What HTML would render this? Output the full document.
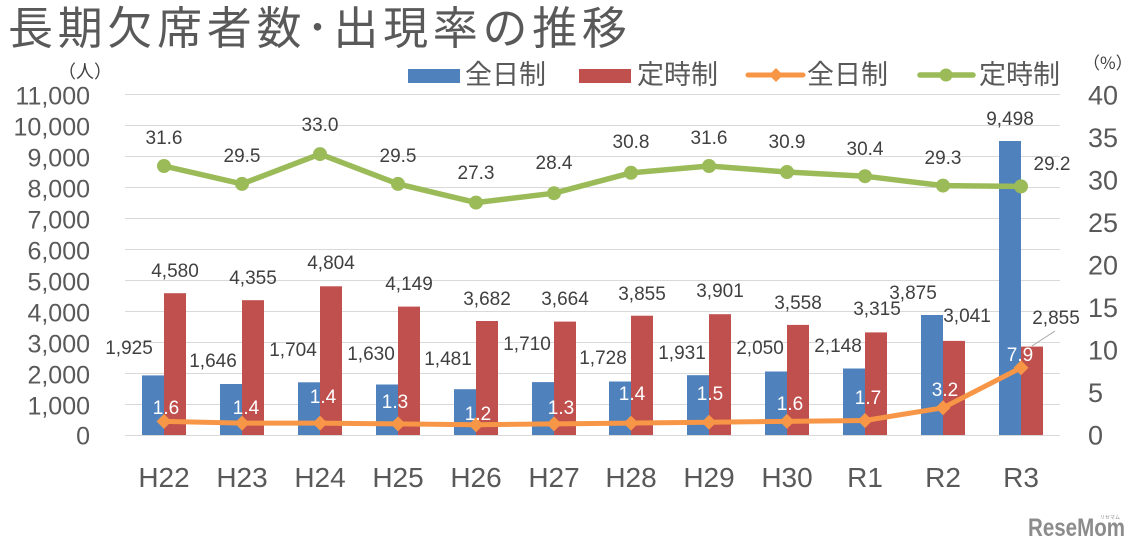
<!DOCTYPE html>
<html><head><meta charset="utf-8"><style>
html,body{margin:0;padding:0;background:#fff;}
svg{display:block;}
text{font-family:"Liberation Sans","Noto Sans CJK JP",sans-serif;}
.cj{font-family:"Noto Sans CJK JP","Liberation Sans",sans-serif;}
.ax{fill:#595959;font-size:25px;}
.axr{fill:#595959;font-size:27px;}
.xl{fill:#595959;font-size:28px;text-anchor:middle;}
.dl{fill:#404040;font-size:19px;text-anchor:middle;}
.wl{fill:#ffffff;font-size:19px;text-anchor:middle;}
</style></head><body>
<svg width="1138" height="550" viewBox="0 0 1138 550" xmlns="http://www.w3.org/2000/svg">
<rect width="1138" height="550" fill="#fff"/>
<!-- title -->
<text class="cj" x="8" y="44" font-size="45" letter-spacing="4.7" fill="#595959">長期欠席者数･出現率の推移</text>
<!-- units -->
<text class="cj" x="58" y="78" font-size="18" fill="#404040">（人）</text>
<text class="cj" x="1083" y="69" font-size="17" fill="#404040">（%）</text>
<!-- gridlines -->
<g stroke="#d9d9d9" stroke-width="1">
<line x1="125" x2="1060" y1="94.5" y2="94.5"/>
<line x1="125" x2="1060" y1="125.5" y2="125.5"/>
<line x1="125" x2="1060" y1="156.5" y2="156.5"/>
<line x1="125" x2="1060" y1="187.5" y2="187.5"/>
<line x1="125" x2="1060" y1="218.5" y2="218.5"/>
<line x1="125" x2="1060" y1="249.5" y2="249.5"/>
<line x1="125" x2="1060" y1="280.5" y2="280.5"/>
<line x1="125" x2="1060" y1="311.5" y2="311.5"/>
<line x1="125" x2="1060" y1="342.5" y2="342.5"/>
<line x1="125" x2="1060" y1="373.5" y2="373.5"/>
<line x1="125" x2="1060" y1="404.5" y2="404.5"/>
<line x1="125" x2="1060" y1="435.5" y2="435.5"/>
</g>
<!-- left axis labels -->
<g class="ax" text-anchor="end">
<text x="90" y="104.5">11,000</text>
<text x="90" y="135.5">10,000</text>
<text x="90" y="166.5">9,000</text>
<text x="90" y="197.5">8,000</text>
<text x="90" y="228.5">7,000</text>
<text x="90" y="259.5">6,000</text>
<text x="90" y="290.5">5,000</text>
<text x="90" y="321.5">4,000</text>
<text x="90" y="352.5">3,000</text>
<text x="90" y="383.5">2,000</text>
<text x="90" y="414.5">1,000</text>
<text x="90" y="444.5">0</text>
</g>
<!-- right axis labels -->
<g class="axr">
<text x="1088" y="104.5">40</text>
<text x="1088" y="147">35</text>
<text x="1088" y="189.5">30</text>
<text x="1088" y="232">25</text>
<text x="1088" y="274.5">20</text>
<text x="1088" y="317">15</text>
<text x="1088" y="359.5">10</text>
<text x="1088" y="402">5</text>
<text x="1088" y="444.5">0</text>
</g>
<!-- blue bars -->
<g fill="#4f81bd">
<rect x="142" y="375.4" width="22" height="59.6"/>
<rect x="220" y="384.0" width="22" height="51.0"/>
<rect x="298" y="382.3" width="22" height="52.7"/>
<rect x="376" y="384.5" width="22" height="50.5"/>
<rect x="454" y="389.2" width="22" height="45.8"/>
<rect x="532" y="382.1" width="22" height="52.9"/>
<rect x="609" y="381.5" width="22" height="53.5"/>
<rect x="687" y="375.2" width="22" height="59.8"/>
<rect x="765" y="371.5" width="22" height="63.5"/>
<rect x="843" y="368.5" width="22" height="66.5"/>
<rect x="921" y="315.0" width="22" height="120.0"/>
<rect x="999" y="141.0" width="22" height="294.0"/>
</g>
<!-- red bars -->
<g fill="#c0504d">
<rect x="164" y="293.2" width="22" height="141.8"/>
<rect x="242" y="300.2" width="22" height="134.8"/>
<rect x="320" y="286.3" width="22" height="148.7"/>
<rect x="398" y="306.6" width="22" height="128.4"/>
<rect x="476" y="321.0" width="22" height="114.0"/>
<rect x="554" y="321.6" width="22" height="113.4"/>
<rect x="631" y="315.7" width="22" height="119.3"/>
<rect x="709" y="314.2" width="22" height="120.8"/>
<rect x="787" y="324.9" width="22" height="110.1"/>
<rect x="865" y="332.4" width="22" height="102.6"/>
<rect x="943" y="340.9" width="22" height="94.1"/>
<rect x="1021" y="346.6" width="22" height="88.4"/>
</g>
<!-- green line -->
<polyline fill="none" stroke="#9bbb59" stroke-width="5.5" stroke-linejoin="round"
 points="164,166.0 242,183.9 320,154.1 398,183.9 476,202.6 554,193.2 631,172.8 709,166.0 787,172.0 865,176.2 943,185.6 1021,186.4"/>
<g fill="#9bbb59">
<circle cx="164" cy="166.0" r="7"/><circle cx="242" cy="183.9" r="7"/><circle cx="320" cy="154.1" r="7"/>
<circle cx="398" cy="183.9" r="7"/><circle cx="476" cy="202.6" r="7"/><circle cx="554" cy="193.2" r="7"/>
<circle cx="631" cy="172.8" r="7"/><circle cx="709" cy="166.0" r="7"/><circle cx="787" cy="172.0" r="7"/>
<circle cx="865" cy="176.2" r="7"/><circle cx="943" cy="185.6" r="7"/><circle cx="1021" cy="186.4" r="7"/>
</g>
<!-- orange line -->
<polyline fill="none" stroke="#f79646" stroke-width="5" stroke-linejoin="round"
 points="164,421.4 242,423.1 320,423.1 398,423.9 476,424.8 554,423.9 631,423.1 709,422.2 787,421.4 865,420.5 943,407.8 1021,367.8"/>
<g fill="#f79646">
<polygon points="164,413.9 171.5,421.4 164,428.9 156.5,421.4"/>
<polygon points="242,415.6 249.5,423.1 242,430.6 234.5,423.1"/>
<polygon points="320,415.6 327.5,423.1 320,430.6 312.5,423.1"/>
<polygon points="398,416.4 405.5,423.9 398,431.4 390.5,423.9"/>
<polygon points="476,417.3 483.5,424.8 476,432.3 468.5,424.8"/>
<polygon points="554,416.4 561.5,423.9 554,431.4 546.5,423.9"/>
<polygon points="631,415.6 638.5,423.1 631,430.6 623.5,423.1"/>
<polygon points="709,414.7 716.5,422.2 709,429.7 701.5,422.2"/>
<polygon points="787,413.9 794.5,421.4 787,428.9 779.5,421.4"/>
<polygon points="865,413.0 872.5,420.5 865,428.0 857.5,420.5"/>
<polygon points="943,400.3 950.5,407.8 943,415.3 935.5,407.8"/>
<polygon points="1021,360.3 1028.5,367.8 1021,375.3 1013.5,367.8"/>
</g>
<!-- leader line -->
<line x1="1032" y1="346" x2="1055" y2="331" stroke="#a6a6a6" stroke-width="1"/>
<!-- red labels -->
<g class="dl">
<text x="175" y="277">4,580</text>
<text x="253" y="284">4,355</text>
<text x="331" y="269">4,804</text>
<text x="409" y="290">4,149</text>
<text x="487" y="305">3,682</text>
<text x="565" y="305">3,664</text>
<text x="642" y="300">3,855</text>
<text x="720" y="297">3,901</text>
<text x="798" y="309">3,558</text>
<text x="877" y="315">3,315</text>
<text x="967" y="322">3,041</text>
<text x="1056" y="324">2,855</text>
</g>
<!-- blue labels -->
<g class="dl">
<text x="129" y="354">1,925</text>
<text x="213" y="367">1,646</text>
<text x="293" y="356">1,704</text>
<text x="371" y="360">1,630</text>
<text x="448" y="365">1,481</text>
<text x="527" y="350">1,710</text>
<text x="603" y="364">1,728</text>
<text x="682" y="359">1,931</text>
<text x="760" y="354">2,050</text>
<text x="838" y="352">2,148</text>
<text x="913" y="299">3,875</text>
<text x="1010" y="125">9,498</text>
</g>
<!-- orange labels (white) -->
<g class="wl">
<text x="166" y="414">1.6</text>
<text x="246" y="414">1.4</text>
<text x="323" y="403">1.4</text>
<text x="395" y="408">1.3</text>
<text x="478" y="420">1.2</text>
<text x="561" y="414">1.3</text>
<text x="632" y="400">1.4</text>
<text x="710" y="400">1.5</text>
<text x="790" y="410">1.6</text>
<text x="868" y="404">1.7</text>
<text x="945" y="396">3.2</text>
<text x="1020" y="361">7.9</text>
</g>
<!-- green labels -->
<g class="dl">
<text x="164" y="144">31.6</text>
<text x="242" y="162">29.5</text>
<text x="320" y="131">33.0</text>
<text x="398" y="162">29.5</text>
<text x="476" y="179">27.3</text>
<text x="554" y="169">28.4</text>
<text x="631" y="148">30.8</text>
<text x="709" y="144">31.6</text>
<text x="787" y="148">30.9</text>
<text x="865" y="155">30.4</text>
<text x="943" y="164">29.3</text>
<text x="1052" y="170">29.2</text>
</g>
<!-- x labels -->
<g class="xl">
<text x="164" y="487">H22</text>
<text x="242" y="487">H23</text>
<text x="320" y="487">H24</text>
<text x="398" y="487">H25</text>
<text x="476" y="487">H26</text>
<text x="554" y="487">H27</text>
<text x="631" y="487">H28</text>
<text x="709" y="487">H29</text>
<text x="787" y="487">H30</text>
<text x="865" y="487">R1</text>
<text x="943" y="487">R2</text>
<text x="1021" y="487">R3</text>
</g>
<!-- legend -->
<rect x="408" y="69" width="52" height="14" fill="#4f81bd"/>
<text class="cj" x="465" y="84" font-size="27" fill="#595959">全日制</text>
<rect x="579" y="69" width="52" height="14" fill="#c0504d"/>
<text class="cj" x="637" y="84" font-size="27" fill="#595959">定時制</text>
<line x1="748" y1="75" x2="803" y2="75" stroke="#f79646" stroke-width="5" stroke-linecap="round"/>
<polygon points="776,68 783,75 776,82 769,75" fill="#f79646"/>
<text class="cj" x="807" y="84" font-size="27" fill="#595959">全日制</text>
<line x1="920" y1="75" x2="973" y2="75" stroke="#9bbb59" stroke-width="5.5" stroke-linecap="round"/>
<circle cx="946" cy="75" r="6.5" fill="#9bbb59"/>
<text class="cj" x="979" y="84" font-size="27" fill="#595959">定時制</text>
<!-- watermark -->
<text x="1028" y="536" font-size="25" font-weight="bold" fill="#8c8c8c" textLength="97" lengthAdjust="spacingAndGlyphs">ReseMom</text>
<text class="cj" x="1100" y="519" font-size="5" fill="#8c8c8c">リセマム</text>
</svg>
</body></html>
